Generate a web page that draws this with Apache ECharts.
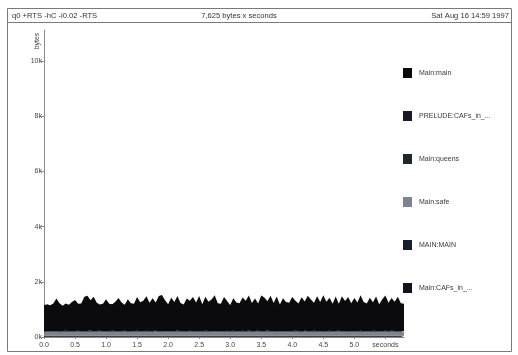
<!DOCTYPE html>
<html>
<head>
<meta charset="utf-8">
<script src="https://cdn.jsdelivr.net/npm/echarts@6/dist/echarts.min.js"></script>
<style>
  html, body { margin: 0; padding: 0; background: #fff; }
  #chart { width: 518px; height: 355px; }
</style>
</head>
<body>
<div id="chart"></div>
<script>
// Heap profile samples (seconds) and residency per cost centre (bytes)
const times = [
  0.00,0.05,0.10,0.15,0.20,0.25,0.30,0.35,0.40,0.45,
  0.50,0.55,0.60,0.65,0.70,0.75,0.80,0.85,0.90,0.95,
  1.00,1.05,1.10,1.15,1.20,1.25,1.30,1.35,1.40,1.45,
  1.50,1.55,1.60,1.65,1.70,1.75,1.80,1.85,1.90,1.95,
  2.00,2.05,2.10,2.15,2.20,2.25,2.30,2.35,2.40,2.45,
  2.50,2.55,2.60,2.65,2.70,2.75,2.80,2.85,2.90,2.95,
  3.00,3.05,3.10,3.15,3.20,3.25,3.30,3.35,3.40,3.45,
  3.50,3.55,3.60,3.65,3.70,3.75,3.80,3.85,3.90,3.95,
  4.00,4.05,4.10,4.15,4.20,4.25,4.30,4.35,4.40,4.45,
  4.50,4.55,4.60,4.65,4.70,4.75,4.80,4.85,4.90,4.95,
  5.00,5.05,5.10,5.15,5.20,5.25,5.30,5.35,5.40,5.45,
  5.50,5.55,5.60,5.65,5.70,5.75,5.80
];

const mainMain = [
  940,980,930,1000,1180,1020,920,990,960,1050,
  1130,980,1010,1240,1280,1100,1260,1020,950,1000,
  1150,990,960,1060,1210,1030,940,1170,1010,990,
  1220,1050,1100,1250,1040,1180,1020,1270,1300,1130,
  970,1210,1060,1250,1020,960,1190,1090,1240,1030,
  1270,980,1230,1060,1140,1290,1010,990,1240,1080,
  950,1170,1040,1020,1210,1100,1270,1030,1180,990,
  1300,1220,1060,1290,1010,1250,970,1180,1060,1040,
  1230,1080,1000,1240,1060,1280,1150,1010,1260,1060,
  1290,1070,1190,1000,1250,980,1270,1090,1230,1010,
  1200,1040,1280,1060,1000,1210,1030,1250,980,1150,
  1280,1030,1190,1060,1240,1010,990
];

const preludeCafs = [
  15,16,14,15,17,15,16,14,15,16,
  15,14,16,15,17,15,14,16,15,15,
  16,15,14,17,15,16,15,14,16,15,
  15,17,15,16,14,15,16,15,17,15,
  14,16,15,15,17,14,16,15,15,16,
  15,14,16,17,15,15,16,14,15,17,
  15,16,14,15,16,15,17,15,14,16,
  15,15,16,14,17,15,16,15,14,15,
  16,15,17,15,14,16,15,15,17,14,
  15,16,15,14,16,15,17,15,16,14,
  15,17,15,16,14,15,16,15,15,17,
  14,15,16,15,17,15,16
];

const mainQueens = [
  20,22,18,24,21,19,23,20,22,18,
  25,21,19,22,20,24,18,21,23,20,
  19,22,24,20,18,21,23,19,22,20,
  24,21,18,22,20,23,19,21,25,20,
  18,22,21,24,19,20,23,21,18,22,
  20,24,19,21,23,18,22,20,24,21,
  19,22,20,18,23,21,24,20,19,22,
  21,18,24,20,22,19,23,21,20,18,
  22,24,20,19,21,23,18,22,20,24,
  21,19,22,20,23,18,21,24,20,22,
  19,21,23,20,18,22,24,19,21,20,
  23,20,18,22,21,24,19
];

const mainSafe = [
  130,125,140,128,135,120,132,145,126,138,
  128,142,120,135,130,148,124,136,140,122,
  134,128,146,130,125,138,142,120,132,136,
  144,126,130,140,122,138,150,128,134,126,
  140,132,124,146,130,136,120,142,128,138,
  132,124,148,130,136,142,126,134,122,140,
  128,146,132,124,138,130,144,126,136,140,
  122,134,148,128,132,138,126,142,130,124,
  136,146,130,122,140,134,128,144,132,126,
  138,130,148,124,136,142,128,132,140,126,
  134,122,146,130,138,128,142,136,124,132,
  140,128,146,130,134,124,138
];

const mainMAIN = [
  20,21,19,20,22,20,19,21,20,20,
  21,19,20,22,20,21,19,20,21,20,
  20,22,19,20,21,20,19,21,22,20,
  19,20,21,20,22,19,20,21,20,19,
  21,20,20,22,19,21,20,19,20,21,
  20,19,21,20,22,20,19,20,21,20,
  22,20,19,21,20,20,21,19,20,22,
  20,21,19,20,21,22,20,19,20,21,
  19,20,22,20,21,19,20,21,20,20,
  21,19,20,22,20,21,19,20,20,21,
  20,22,19,20,21,20,19,21,20,22,
  20,19,21,20,20,22,19
];

const mainCafs = [
  26,25,27,26,24,26,25,27,26,25,
  24,26,27,25,26,24,26,25,27,26,
  25,26,24,27,26,25,26,24,25,27,
  26,25,26,24,27,26,25,26,24,25,
  27,26,25,24,26,27,25,26,25,24,
  26,27,25,26,24,25,26,27,26,25,
  24,26,25,27,26,24,25,26,27,25,
  26,24,25,26,27,25,26,24,26,25,
  27,25,26,24,26,25,27,26,24,25,
  26,27,25,26,24,26,25,27,25,26,
  24,25,27,26,25,26,24,25,27,26,
  25,26,24,27,25,26,25
];

// Axis ticks and their labels
const xTicks = [0, 0.5, 1.0, 1.5, 2.0, 2.5, 3.0, 3.5, 4.0, 4.5, 5.0, 5.5];
const xTickLabels = ['0.0','0.5','1.0','1.5','2.0','2.5','3.0','3.5','4.0','4.5','5.0','seconds'];
const yTicks = [0, 2000, 4000, 6000, 8000, 10000];
const yTickLabels = ['0k','2k','4k','6k','8k','10k'];

// Header texts
const jobText = 'q0 +RTS -hC -i0.02 -RTS';
const totalText = '7,625 bytes x seconds';
const dateText = 'Sat Aug 16 14:59 1997';

// Bands, stacked from the bottom upwards
const bands = [
  { name: 'Main:CAFs_in_...',    values: mainCafs,    color: '#101319' },
  { name: 'MAIN:MAIN',           values: mainMAIN,    color: '#16202e' },
  { name: 'Main:safe',           values: mainSafe,    color: '#7c8490' },
  { name: 'Main:queens',         values: mainQueens,  color: '#1d2a2b' },
  { name: 'PRELUDE:CAFs_in_...', values: preludeCafs, color: '#151a23' },
  { name: 'Main:main',           values: mainMain,    color: '#0b0b0e' }
];

const font = '"Liberation Sans", Arial, Helvetica, sans-serif';

function tickIndexOf(value) {
  const t = Number(value);
  return xTicks.findIndex(x => Math.abs(x - t) < 1e-6);
}

const chart = echarts.init(document.getElementById('chart'), null, { renderer: 'canvas' });

chart.setOption({
  animation: false,
  backgroundColor: '#ffffff',
  grid: { left: 44, right: 114, top: 30, bottom: 18, containLabel: false },
  xAxis: {
    type: 'category',
    boundaryGap: false,
    data: times.map(t => t.toFixed(2)),
    axisLine: { show: true, lineStyle: { color: '#8a8a8a', width: 1 } },
    axisTick: {
      show: true, length: 2, alignWithLabel: true,
      interval: (i, v) => tickIndexOf(v) >= 0,
      lineStyle: { color: '#8a8a8a' }
    },
    axisLabel: {
      interval: (i, v) => tickIndexOf(v) >= 0,
      fontSize: 7,
      fontFamily: font,
      color: '#444',
      margin: 5,
      formatter: function (v) {
        const i = tickIndexOf(v);
        return i >= 0 ? xTickLabels[i] : '';
      }
    },
    splitLine: { show: false }
  },
  yAxis: {
    type: 'value',
    min: 0,
    max: 11120,
    axisLine: { show: true, lineStyle: { color: '#8a8a8a', width: 1 } },
    axisTick: { show: true, length: 3, customValues: yTicks, lineStyle: { color: '#8a8a8a' } },
    axisLabel: {
      customValues: yTicks,
      fontSize: 7,
      fontFamily: font,
      color: '#444',
      margin: 2,
      formatter: function (v) {
        const i = yTicks.indexOf(v);
        return i >= 0 ? yTickLabels[i] : '';
      }
    },
    splitLine: { show: false }
  },
  legend: {
    orient: 'vertical',
    left: 403,
    top: 68,
    padding: 0,
    icon: 'rect',
    itemWidth: 9,
    itemHeight: 10,
    itemGap: 33,
    selectedMode: false,
    data: bands.slice().reverse().map(b => b.name),
    textStyle: { fontSize: 7, fontFamily: font, color: '#3a3a3a', padding: [0, 0, 0, 2] }
  },
  graphic: [
    { type: 'rect', shape: { x: 7.5, y: 8.5, width: 504, height: 343 },
      style: { fill: 'none', stroke: '#7a7a7a', lineWidth: 1 }, silent: true },
    { type: 'line', shape: { x1: 7.5, y1: 22.5, x2: 511.5, y2: 22.5 },
      style: { stroke: '#7a7a7a', lineWidth: 1 }, silent: true },
    { type: 'text', x: 12, y: 15.5,
      style: { text: jobText, font: '7.6px ' + font, fill: '#333', align: 'left', verticalAlign: 'middle' } },
    { type: 'text', x: 239, y: 15.5,
      style: { text: totalText, font: '7.6px ' + font, fill: '#333', align: 'center', verticalAlign: 'middle' } },
    { type: 'text', x: 509, y: 15.5,
      style: { text: dateText, font: '7.6px ' + font, fill: '#333', align: 'right', verticalAlign: 'middle' } },
    { type: 'text', x: 37, y: 41, rotation: Math.PI / 2,
      style: { text: 'bytes', font: '7px ' + font, fill: '#444', align: 'center', verticalAlign: 'middle' } }
  ],
  series: bands.map(b => ({
    type: 'line',
    name: b.name,
    stack: 'heap',
    symbol: 'none',
    showSymbol: false,
    smooth: false,
    silent: true,
    data: b.values,
    lineStyle: { width: 0, color: b.color },
    itemStyle: { color: b.color },
    areaStyle: { color: b.color, opacity: 1 }
  }))
});
</script>
</body>
</html>
